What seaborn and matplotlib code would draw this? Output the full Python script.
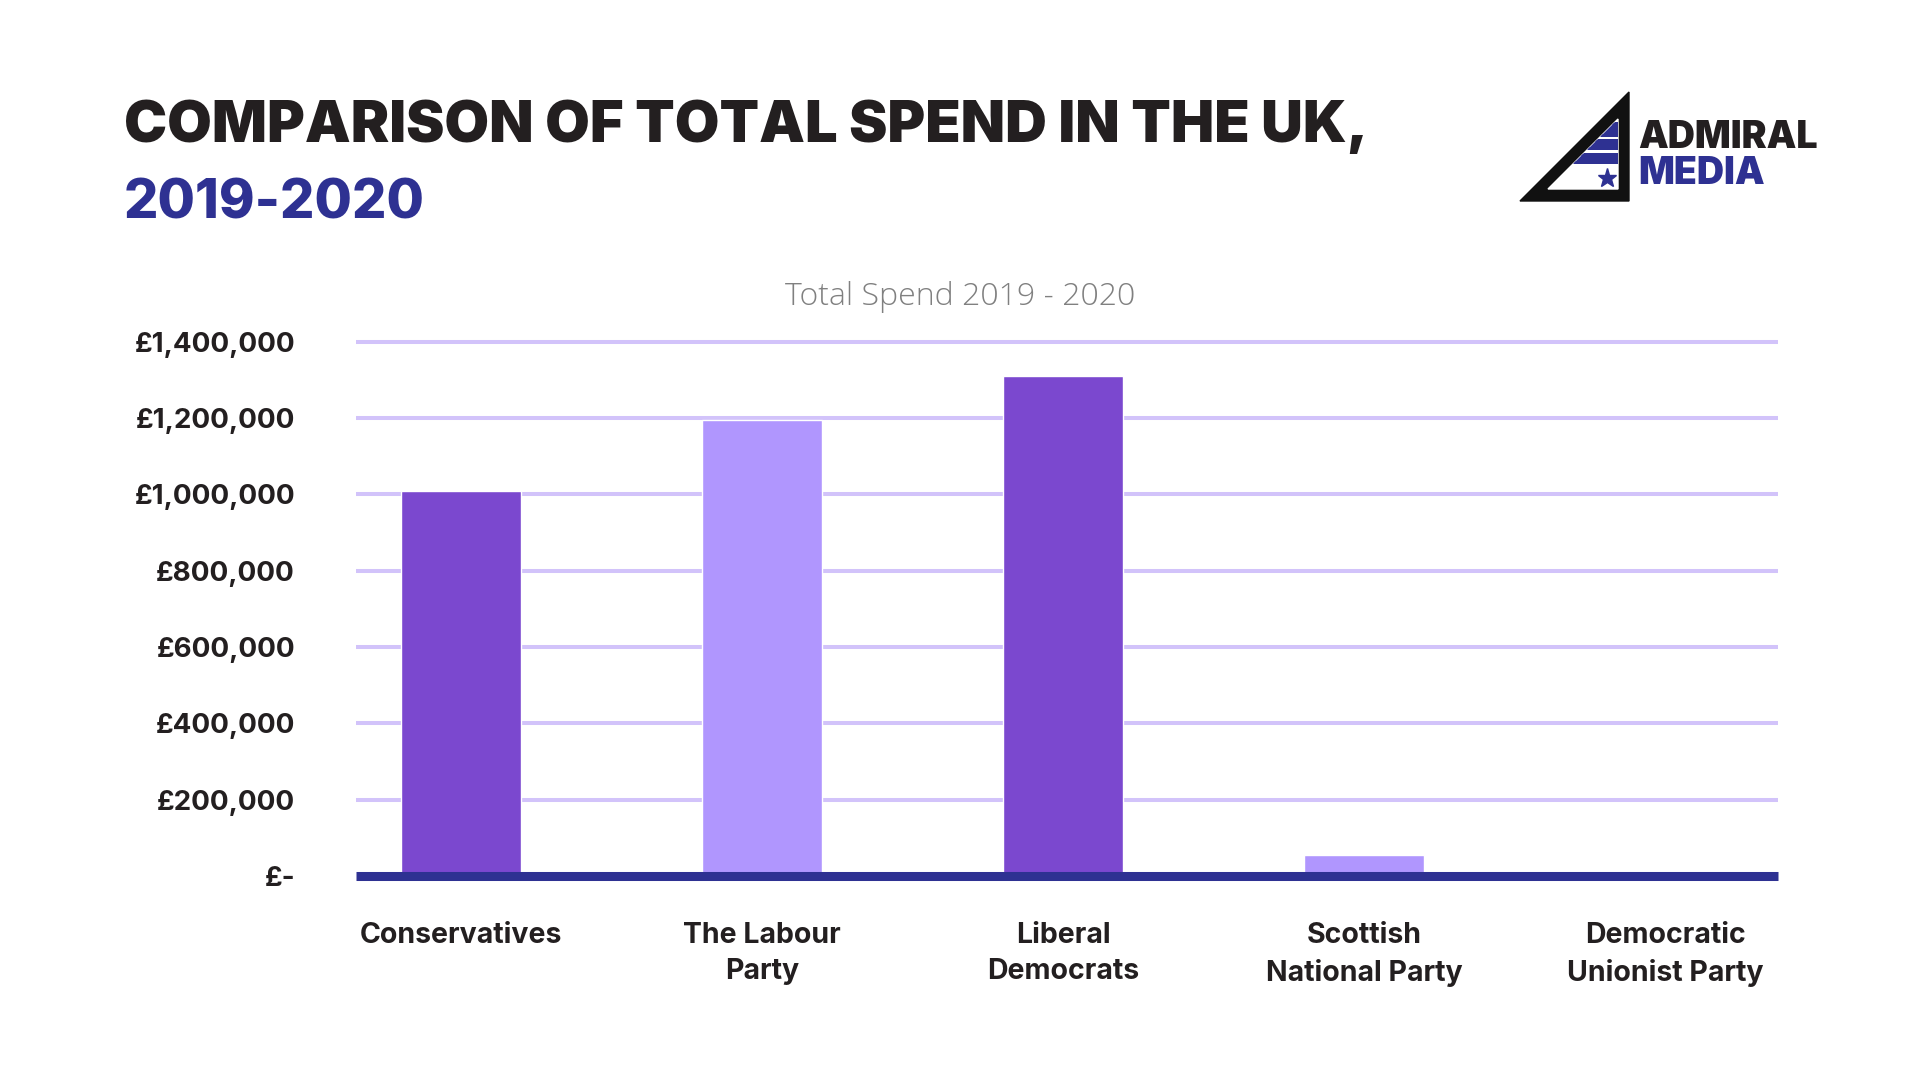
import numpy as np
import matplotlib
matplotlib.use("Agg")
import matplotlib.pyplot as plt
from matplotlib.patches import Polygon
from matplotlib.ticker import FuncFormatter
import seaborn as sns

# data
parties = ["Conservatives", "The Labour\nParty", "Liberal\nDemocrats",
           "Scottish\nNational Party", "Democratic\nUnionist Party"]
spend = [1010000, 1195000, 1310000, 55000, 2000]
bar_colors = ["#7B48CF", "#B096FE", "#7B48CF", "#B096FE", "#7B48CF"]
y_ticks = [0, 200000, 400000, 600000, 800000, 1000000, 1200000, 1400000]

title_line1 = "COMPARISON OF TOTAL SPEND IN THE UK,"
title_line2 = "2019-2020"
chart_title = "Total Spend 2019 - 2020"

DARK = "#231F20"
NAVY = "#2E3192"
GRID = "#D2C3FA"

sns.set_theme(style="white")
plt.rcParams["font.family"] = ["Inter", "DejaVu Sans"]

fig = plt.figure(figsize=(19.2, 10.8), dpi=100)
fig.patch.set_facecolor("white")

ax = fig.add_axes([356 / 1920, (1080 - 876) / 1080, (1778 - 356) / 1920, 553.3 / 1080])

sns.barplot(x=parties, y=spend, hue=parties, palette=bar_colors, width=0.4,
            saturation=1, legend=False, ax=ax, zorder=3)

ax.set_xlim(-0.349, 4.375)
ax.set_ylim(0, 1450000)
ax.set_yticks(y_ticks)
ax.yaxis.set_major_formatter(FuncFormatter(lambda v, p: "£-" if v == 0 else f"£{int(v):,}"))

for t in y_ticks[1:]:
    ax.axhline(t, color=GRID, lw=2.9, zorder=1, clip_on=False, solid_capstyle="butt")
ax.axhline(0, color=NAVY, lw=6.5, zorder=4, clip_on=False, solid_capstyle="butt")

for s in ax.spines.values():
    s.set_visible(False)
ax.tick_params(axis="both", length=0)
ax.tick_params(axis="y", pad=44)
ax.tick_params(axis="x", pad=33)
for lab in ax.get_yticklabels():
    lab.set_fontsize(20)
    lab.set_fontweight("bold")
    lab.set_color(DARK)
for lab in ax.get_xticklabels():
    lab.set_fontsize(20.5)
    lab.set_fontweight("bold")
    lab.set_color(DARK)
    lab.set_linespacing(1.45)
ax.set_xlabel("")
ax.set_ylabel("")

# titles
fig.text(124 / 1920, 1 - 142 / 1080, title_line1, fontsize=41.5, fontweight="black",
         color=DARK, va="baseline", ha="left")
fig.text(124 / 1920, 1 - 219 / 1080, title_line2, fontsize=39, fontweight="heavy",
         color=NAVY, va="baseline", ha="left")
fig.text(0.5, 1 - 305 / 1080, chart_title, fontsize=23, fontweight="light",
         color="#808080", va="baseline", ha="center",
         family=["Open Sans", "DejaVu Sans"])

# logo
lg = fig.add_axes([0, 0, 1, 1], zorder=5)
lg.set_xlim(0, 1920)
lg.set_ylim(1080, 0)
lg.axis("off")
lg.add_patch(Polygon([[1520, 201], [1629, 92], [1629, 201]], closed=True, color="#111111"))
inner = Polygon([[1548, 189], [1618, 119], [1618, 189]], closed=True, color="white")
lg.add_patch(inner)
for y0, y1 in [(123, 135), (140, 148), (154, 162)]:
    st = lg.fill_between([1540, 1620], y0, y1, color=NAVY)
    st.set_clip_path(inner)
lg.plot([1607], [178], marker="*", ms=14, color=NAVY)
lg.text(1638, 148, "ADMIRAL", fontsize=27, fontweight="black", color=DARK,
        va="baseline", ha="left")
lg.text(1638, 184, "MEDIA", fontsize=27, fontweight="black", color=NAVY,
        va="baseline", ha="left")

fig.savefig("out.png", dpi=100, facecolor="white")
